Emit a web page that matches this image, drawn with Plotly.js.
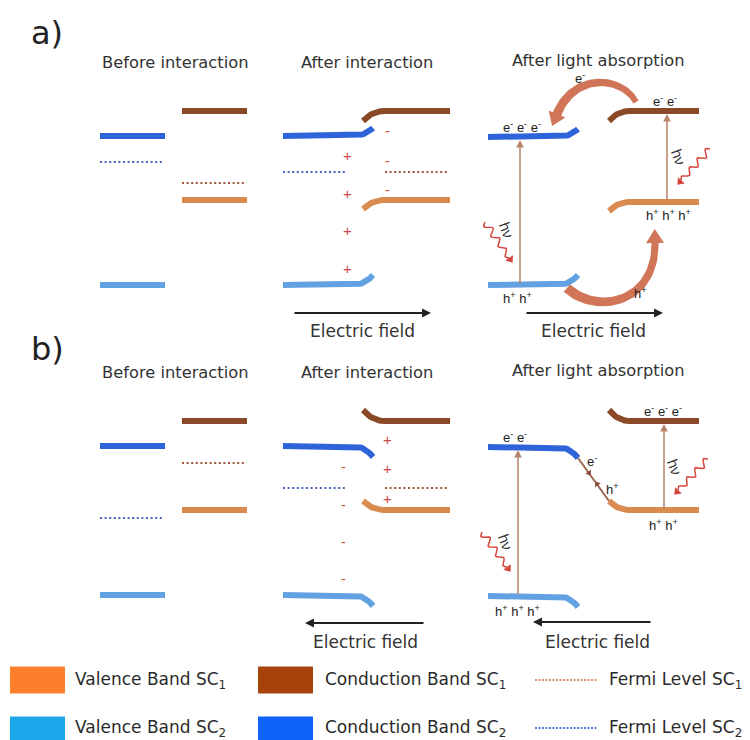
<!DOCTYPE html>
<html><head><meta charset="utf-8">
<script src="https://cdn.plot.ly/plotly-3.0.1.min.js"></script>
<style>html,body{margin:0;padding:0;background:#fff}</style>
</head><body><div id="chart" style="width:750px;height:740px"></div>
<script>
// ================= DATA =================
const panelLabels = ['a)', 'b)'];
const stageTitles = ['Before interaction', 'After interaction', 'After light absorption'];
const fieldLabel = 'Electric field';
const legendLabels = ['Valence Band SC<sub>1</sub>', 'Conduction Band SC<sub>1</sub>', 'Fermi Level SC<sub>1</sub>',
                      'Valence Band SC<sub>2</sub>', 'Conduction Band SC<sub>2</sub>', 'Fermi Level SC<sub>2</sub>'];

// energy levels in diagram units (downwards = lower energy): [CB, EF, VB]
const aBeforeSC2 = [136, 162, 285];
const aBeforeSC1 = [111, 183, 200];
const aAfterSC2  = [136, 172, 285];
const aAfterSC1  = [111, 172, 200];
const aLightSC2  = [137, 285];          // [CB, VB]
const aLightSC1  = [111, 202];
const bBeforeSC2 = [446, 518, 595];
const bBeforeSC1 = [421, 463, 510];
const bAfterSC2  = [446, 488, 595];
const bAfterSC1  = [421, 488, 510];
const bLightSC2  = [447, 596];
const bLightSC1  = [421, 510];

// band bending at the interface: [CB, VB] (negative = upwards)
const aBendSC2 = [-8, -10];
const aBendSC1 = [10, 9];
const bBendSC2 = [11, 11];
const bBendSC1 = [-11, -9];

// space charge signs
const aChargeSC2 = ['+', '+', '+', '+'];
const aChargeSC1 = ['-', '-', '-'];
const bChargeSC2 = ['-', '-', '-', '-'];
const bChargeSC1 = ['+', '+', '+'];

// photogenerated carriers: [SC2, SC1]
const aElectrons = [3, 2];
const aHoles     = [2, 3];
const bElectrons = [2, 3];
const bHoles     = [3, 2];

// ================= STYLE / GEOMETRY =================
const C = {
  cb2: '#2e63d9', vb2: '#62a2e2', cb1: '#8a4a27', vb1: '#d98b50',
  ef2: '#4a62c8', ef1: '#a0553a',
  lgVb1: '#fd7f2e', lgCb1: '#a6430b', lgVb2: '#1ba7ea', lgCb2: '#0f63fb',
  lgEf1: '#d99266', lgEf2: '#5478e0',
  text: '#333333', sign: '#cc4747', wave: '#d7463a', hv: '#b9836b', arc: 'rgba(206,110,78,0.95)'
};
const BW = 6;                      // band line width
const FONT = 'DejaVu Sans, Verdana, sans-serif';
const SMALL = 'Liberation Sans, Arial, sans-serif';

const traces = [];
const ann = [];

function addLine(x, y, color, width, dash) {
  traces.push({type: 'scatter', mode: 'lines', x: x, y: y, hoverinfo: 'skip',
    line: {color: color, width: width, dash: dash || 'solid'}});
}
function bendRight(x0, x1, y, xe, ye) {
  const xs = [x0], ys = [y];
  const cx = x1 + 0.6 * (xe - x1), cy = y;
  for (let i = 0; i <= 14; i++) {
    const t = i / 14;
    xs.push((1 - t) * (1 - t) * x1 + 2 * (1 - t) * t * cx + t * t * xe);
    ys.push((1 - t) * (1 - t) * y + 2 * (1 - t) * t * cy + t * t * ye);
  }
  return {x: xs, y: ys};
}
function bendLeft(xs0, ys0, x1, x2, y) {
  const p = bendRight(x2, x1, y, xs0, ys0);
  return {x: p.x.slice().reverse(), y: p.y.slice().reverse()};
}
function text(x, y, t, size, color, family, extra) {
  ann.push(Object.assign({x: x, y: y, xref: 'x', yref: 'y', text: t, showarrow: false,
    font: {size: size, color: color, family: family}}, extra || {}));
}
function arrow(xt, yt, xh, yh, color, width, size) {
  ann.push({x: xh, y: yh, ax: xt, ay: yt, xref: 'x', yref: 'y', axref: 'x', ayref: 'y',
    text: '', showarrow: true, arrowhead: 2, arrowsize: size || 1, arrowwidth: width, arrowcolor: color, standoff: 0});
}
function head(x, y, dx, dy, color, size) {
  const ang = Math.atan2(dx, -dy) * 180 / Math.PI;
  traces.push({type: 'scatter', mode: 'markers', x: [x], y: [y], hoverinfo: 'skip',
    marker: {symbol: 'triangle-up', size: size, color: color, angle: ang, line: {width: 0}}});
}
function wave(x0, y0, x1, y1) {
  const dx = x1 - x0, dy = y1 - y0, L = Math.hypot(dx, dy);
  const ux = dx / L, uy = dy / L, nx = -uy, ny = ux;
  const xs = [], ys = [], N = 70, per = 3.5, amp = 3.6;
  for (let i = 0; i <= N; i++) {
    const s = i / N * (L - 5), o = amp * Math.sin(2 * Math.PI * per * i / N) * (1 - 0.3 * i / N);
    xs.push(x0 + ux * s + nx * o); ys.push(y0 + uy * s + ny * o);
  }
  addLine(xs, ys, C.wave, 1.5);
  head(x1 - ux * 3, y1 - uy * 3, ux, uy, C.wave, 8);
}
function thickArc(P, w0, w1, hl, hw) {
  const N = 40, L = [], R = [];
  let tx = 0, ty = 0, ex = 0, ey = 0;
  for (let i = 0; i <= N; i++) {
    const t = i / N, u = 1 - t;
    const x = u*u*u*P[0][0] + 3*u*u*t*P[1][0] + 3*u*t*t*P[2][0] + t*t*t*P[3][0];
    const y = u*u*u*P[0][1] + 3*u*u*t*P[1][1] + 3*u*t*t*P[2][1] + t*t*t*P[3][1];
    let dx = 3*u*u*(P[1][0]-P[0][0]) + 6*u*t*(P[2][0]-P[1][0]) + 3*t*t*(P[3][0]-P[2][0]);
    let dy = 3*u*u*(P[1][1]-P[0][1]) + 6*u*t*(P[2][1]-P[1][1]) + 3*t*t*(P[3][1]-P[2][1]);
    const d = Math.hypot(dx, dy); dx /= d; dy /= d;
    const w = (w0 + (w1 - w0) * t) / 2;
    L.push([x - dy * w, y + dx * w]); R.push([x + dy * w, y - dx * w]);
    tx = dx; ty = dy; ex = x; ey = y;
  }
  const pts = L.concat([[ex - ty * hw, ey + tx * hw], [ex + tx * hl, ey + ty * hl], [ex + ty * hw, ey - tx * hw]])
               .concat(R.slice().reverse());
  pts.push(pts[0]);
  traces.push({type: 'scatter', mode: 'lines', x: pts.map(p => p[0]), y: pts.map(p => p[1]),
    fill: 'toself', fillcolor: C.arc, line: {width: 0}, hoverinfo: 'skip'});
}
const rep = (s, n) => Array(n).fill(s).join(' ');
const E = 'e<sup>-</sup>', H = 'h<sup>+</sup>';

// ---------- Panel titles ----------
text(47, 33, panelLabels[0], 32, '#222', FONT);
text(47, 349, panelLabels[1], 32, '#222', FONT);
const titleX = [175, 367, 598];
[62, 372].forEach((ty, p) => {
  stageTitles.forEach((t, i) => text(titleX[i], i === 2 ? ty - 2 : ty, t, 16.3, C.text, FONT));
});

// ---------- Before interaction ----------
function before(s2, s1) {
  addLine([100, 165], [s2[0], s2[0]], C.cb2, BW);
  addLine([100, 164], [s2[1], s2[1]], C.ef2, 2, '2px,2.6px');
  addLine([100, 165], [s2[2], s2[2]], C.vb2, BW);
  addLine([182, 247], [s1[0], s1[0]], C.cb1, BW);
  addLine([182, 246], [s1[1], s1[1]], C.ef1, 2, '2px,2.6px');
  addLine([182, 247], [s1[2], s1[2]], C.vb1, BW);
}
before(aBeforeSC2, aBeforeSC1);
before(bBeforeSC2, bBeforeSC1);

// ---------- After interaction ----------
function after(s2, s1, b2, b1) {
  let p = bendRight(283, 352, s2[0], 373, s2[0] + b2[0]); addLine(p.x, p.y, C.cb2, BW);
  p = bendRight(283, 352, s2[2], 373, s2[2] + b2[1]); addLine(p.x, p.y, C.vb2, BW);
  p = bendLeft(363, s1[0] + b1[0], 385, 450, s1[0]); addLine(p.x, p.y, C.cb1, BW);
  p = bendLeft(363, s1[2] + b1[1], 385, 450, s1[2]); addLine(p.x, p.y, C.vb1, BW);
  addLine([283, 346], [s2[1], s2[1]], C.ef2, 2, '2px,2.6px');
  addLine([385, 449], [s1[1], s1[1]], C.ef1, 2, '2px,2.6px');
}
after(aAfterSC2, aAfterSC1, aBendSC2, aBendSC1);
after(bAfterSC2, bAfterSC1, bBendSC2, bBendSC1);

// space charges
const aY2 = [155, 193, 230, 268], aY1 = [131, 161, 190];
aChargeSC2.forEach((s, i) => text(347, aY2[i], s, 15, C.sign, SMALL));
aChargeSC1.forEach((s, i) => text(387, aY1[i], s, 14, C.sign, SMALL));
const bY2 = [467, 505, 542, 579], bY1 = [439, 468, 498];
bChargeSC2.forEach((s, i) => text(343, bY2[i], s, 14, C.sign, SMALL));
bChargeSC1.forEach((s, i) => text(387, bY1[i], s, 15, C.sign, SMALL));

// ---------- After light absorption ----------
function light(s2, s1, b2, b1) {
  let p = bendRight(488, 557, s2[0], 578, s2[0] + b2[0]); addLine(p.x, p.y, C.cb2, BW);
  p = bendRight(488, 557, s2[1], 578, s2[1] + b2[1]); addLine(p.x, p.y, C.vb2, BW);
  p = bendLeft(609, s1[0] + b1[0], 630, 699, s1[0]); addLine(p.x, p.y, C.cb1, BW);
  p = bendLeft(609, s1[1] + b1[1], 630, 699, s1[1]); addLine(p.x, p.y, C.vb1, BW);
}
light(aLightSC2, aLightSC1, aBendSC2, aBendSC1);
light(bLightSC2, bLightSC1, bBendSC2, bBendSC1);

// panel b: interface recombination path
addLine([578, 609], [bLightSC2[0] + bBendSC2[0], bLightSC1[1] + bBendSC1[1]], '#a0664f', 2);
head(589, 473, 31, 44, '#8a4a3a', 6);
head(597, 484, -31, -44, '#8a4a3a', 6);

// vertical excitation arrows
arrow(520, aLightSC2[1], 520, aLightSC2[0] + 3, C.hv, 1.5, 1);
arrow(667, aLightSC1[1], 667, aLightSC1[0] + 3, C.hv, 1.5, 1);
arrow(518, bLightSC2[1], 518, bLightSC2[0] + 3, C.hv, 1.5, 1);
arrow(664, bLightSC1[1], 664, bLightSC1[0] + 3, C.hv, 1.5, 1);

// photons
wave(485, 222, 512, 262);
wave(710, 149, 678, 184);
wave(482, 532, 510, 571);
wave(708, 459, 675, 494);
text(507, 230, 'hν', 15, '#333', SMALL, {textangle: 70});
text(679, 157, 'hν', 15, '#333', SMALL, {textangle: 70});
text(506, 542, 'hν', 15, '#333', SMALL, {textangle: 70});
text(675, 467, 'hν', 15, '#333', SMALL, {textangle: 70});

// charge transfer arcs (panel a)
thickArc([[636, 102], [622, 76], [574, 72], [557, 114]], 6, 9, 13, 9);
thickArc([[567, 288], [598, 316], [656, 302], [655, 243]], 10, 7, 14, 9);

// carrier labels
text(580, 78, E, 13, '#222', SMALL);
text(522, 127, rep(E, aElectrons[0]), 13, '#222', SMALL);
text(665, 101, rep(E, aElectrons[1]), 13, '#222', SMALL);
text(517, 298, rep(H, aHoles[0]), 13, '#222', SMALL);
text(668, 215, rep(H, aHoles[1]), 13, '#222', SMALL);
text(640, 293, H, 13, '#222', SMALL);

text(515, 437, rep(E, bElectrons[0]), 13, '#222', SMALL);
text(663, 411, rep(E, bElectrons[1]), 13, '#222', SMALL);
text(592, 461, E, 13, '#222', SMALL);
text(612, 489, H, 13, '#222', SMALL);
text(517, 611, rep(H, bHoles[0]), 13, '#222', SMALL);
text(663, 525, rep(H, bHoles[1]), 13, '#222', SMALL);

// electric field arrows
arrow(293, 313, 431, 313, '#222', 2, 0.9);
arrow(525, 313, 663, 313, '#222', 2, 0.9);
arrow(425, 623, 305, 623, '#222', 2, 0.9);
arrow(652, 622, 533, 622, '#222', 2, 0.9);
text(362, 331, fieldLabel, 17, C.text, FONT);
text(593, 331, fieldLabel, 17, C.text, FONT);
text(365, 642, fieldLabel, 17, C.text, FONT);
text(597, 642, fieldLabel, 17, C.text, FONT);

// ---------- Legend ----------
const rowY = [680, 728];
addLine([10, 65], [rowY[0], rowY[0]], C.lgVb1, 27);
addLine([258, 313], [rowY[0], rowY[0]], C.lgCb1, 27);
addLine([535, 598], [rowY[0], rowY[0]], C.lgEf1, 2, '2px,1.5px');
addLine([10, 65], [rowY[1] + 2, rowY[1] + 2], C.lgVb2, 27);
addLine([258, 313], [rowY[1] + 2, rowY[1] + 2], C.lgCb2, 27);
addLine([535, 598], [rowY[1], rowY[1]], C.lgEf2, 2, '2px,1.5px');
const legX = [73, 323, 607];
legendLabels.forEach((t, i) => text(legX[i % 3], rowY[Math.floor(i / 3)], t, 17, '#2a2a2a', FONT, {xanchor: 'left'}));

const layout = {
  width: 750, height: 740, margin: {l: 0, r: 0, t: 0, b: 0},
  paper_bgcolor: '#ffffff', plot_bgcolor: '#ffffff', showlegend: false,
  xaxis: {range: [0, 750], visible: false, fixedrange: true},
  yaxis: {range: [740, 0], visible: false, fixedrange: true},
  annotations: ann
};
Plotly.newPlot('chart', traces, layout, {staticPlot: true, displayModeBar: false});
</script>
</body></html>
